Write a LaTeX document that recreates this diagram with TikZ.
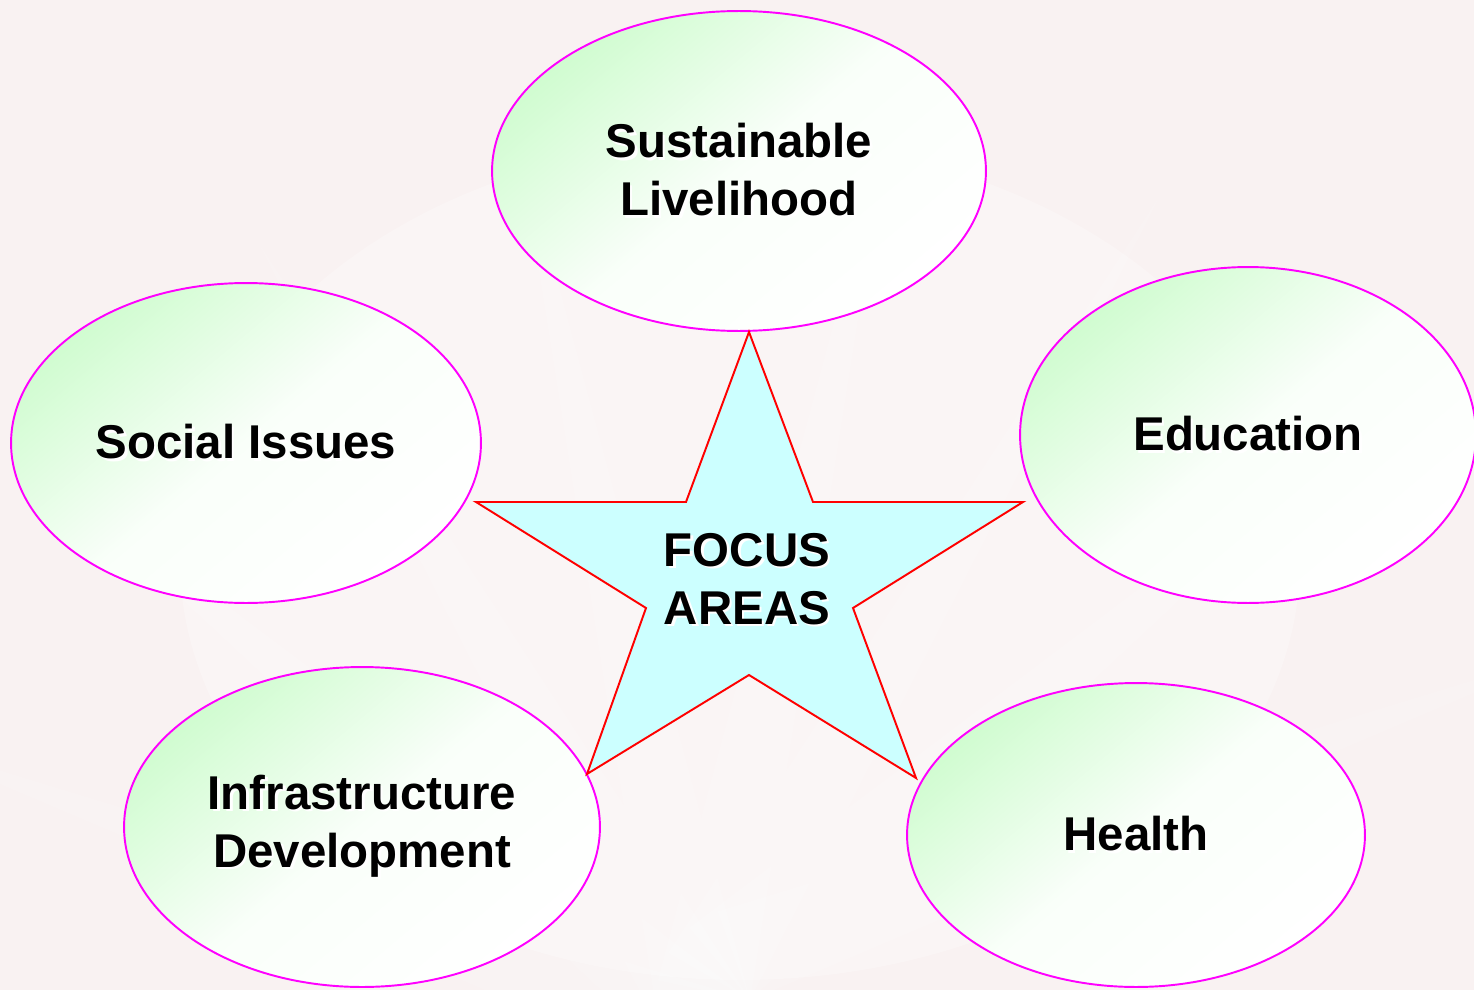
\documentclass[tikz,border=0pt]{standalone}
\usepackage{fontspec}
\setmainfont{Liberation Sans}
\usetikzlibrary{shapes.geometric}
\definecolor{bgpink}{RGB}{249,242,242}
\definecolor{lgreen}{RGB}{208,252,208}
\definecolor{starfill}{RGB}{204,255,255}
\definecolor{ellborder}{RGB}{255,0,255}
\newcommand\shd[1]{\leavevmode\rlap{\kern1.4pt\lower1.4pt\hbox{\color{white}#1}}#1}
\tikzset{
  area/.style={ellipse, draw=ellborder, line width=1.1pt, inner sep=0pt,
    top color=lgreen, bottom color=white, middle color=white!88!lgreen, shading angle=40,
    font=\fontsize{27}{33}\selectfont\bfseries, align=center, text=black},
  starshape/.style={draw=red, line width=1.1pt, fill=starfill, line join=miter},
  startext/.style={font=\fontsize{27}{33}\selectfont\bfseries, align=center, text=black},
}
\begin{document}
\begin{tikzpicture}[x=0.02cm,y=-0.02cm]
\useasboundingbox (0,0) rectangle (1474,990);
\clip (0,0) rectangle (1474,990);
\fill[bgpink] (0,0) rectangle (1474,990);
% faint background rays
\foreach \a in {-70,-50,-30,-12,12,30,50,70} {
  \fill[white, opacity=0.15] (750,1000) -- ++({90+\a-3}:-900) -- ++({90+\a+3}:900) -- cycle;
}
\fill[white, opacity=0.25] (740,560) ellipse (560 and 420);

\node[area, minimum width=9.88cm, minimum height=6.4cm] (sus) at (739,171) {\shd{Sustainable}\\\shd{Livelihood}};
\node[area, minimum width=9.4cm, minimum height=6.4cm] (soc) at (246,443) {\shd{Social Issues}};
\node[area, minimum width=9.12cm, minimum height=6.72cm] (edu) at (1248,435) {\shd{Education}};
\node[area, minimum width=9.52cm, minimum height=6.4cm] (inf) at (362,827) {\shd{Infrastructure}\\\shd{Development}};
\node[area, minimum width=9.16cm, minimum height=6.08cm] (hea) at (1136,835) {\shd{Health}};

\draw[starshape] (749,332) -- (813,502) -- (1023,502) -- (853,608) -- (916,778)
  -- (749,675) -- (587,774) -- (646,608) -- (476,502) -- (686,502) -- cycle;
\node[startext] (focus) at (747,580) {\shd{FOCUS}\\\shd{AREAS}};
\end{tikzpicture}
\end{document}
